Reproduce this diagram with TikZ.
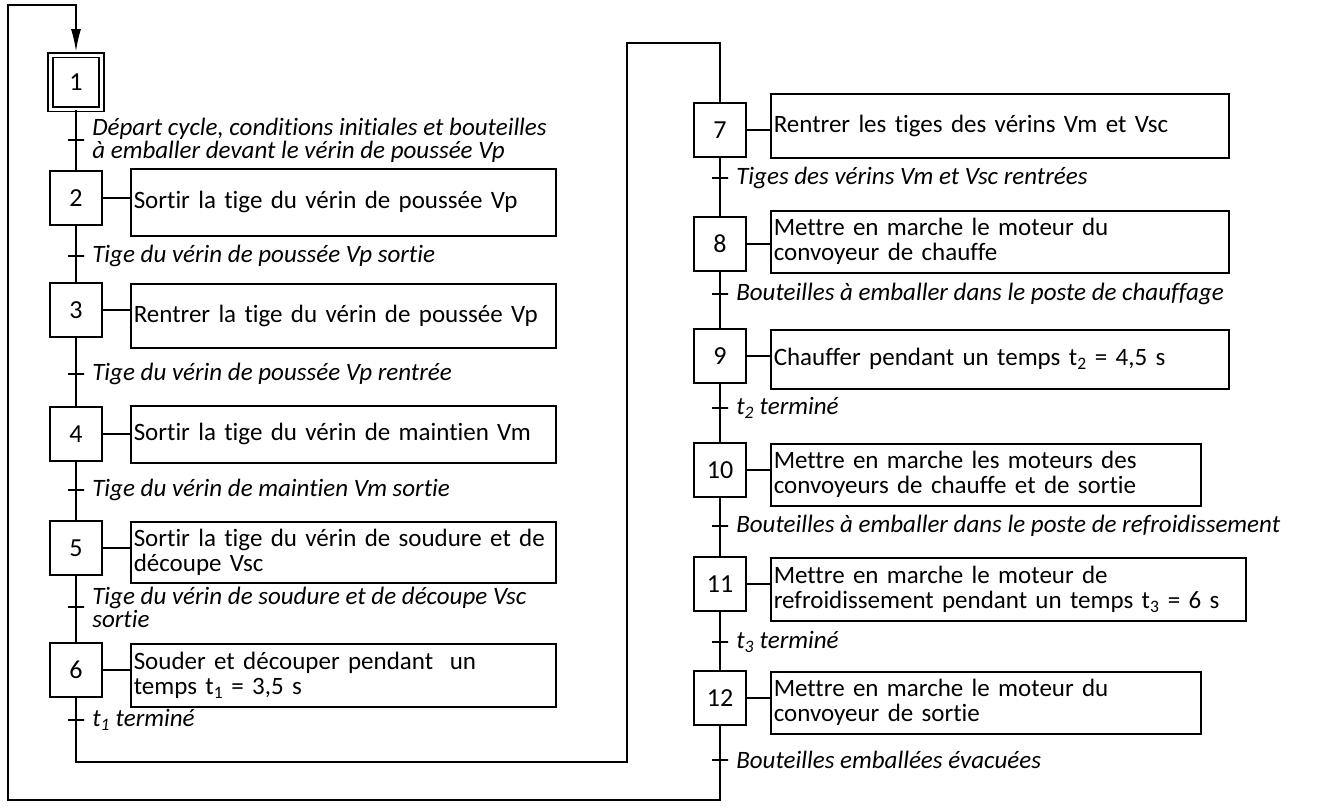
\documentclass[tikz,border=0pt]{standalone}
\usepackage{fontspec}
\setmainfont{Carlito}[Ligatures={NoCommon}]
\usetikzlibrary{arrows.meta}

\begin{document}
\begin{tikzpicture}[
                    x=1pt, y=-1pt,
                    line width=1.3pt,
                    font=\fontsize{25}{25}\selectfont,
                    etape/.style={draw, line width=1.5pt, minimum width=52pt, minimum height=54pt, inner sep=0pt, font=\fontsize{26}{26}\selectfont},
                    etapeinit/.style={etape, double, line width=1.8pt, double distance=3pt, minimum width=51pt, minimum height=54pt},
                    action/.style={draw, line width=1.5pt, anchor=north west, align=left, inner sep=0pt, inner xsep=3pt},
                    tick/.style={draw, line width=1.3pt, minimum width=16pt, minimum height=0pt, inner sep=0pt},
                    recep/.style={anchor=west, align=left, inner sep=0pt, font=\fontsize{25}{23}\selectfont\itshape}
                ]
                \useasboundingbox (0,0) rectangle (1334,811);

                % etapes
                \node (e1) [etapeinit] at (76,82) {1} ;
                \node (e2) [etape] at (76,198) {2} ;
                \node (e3) [etape] at (76,310) {3} ;
                \node (e4) [etape] at (76,434) {4} ;
                \node (e5) [etape] at (76,548) {5} ;
                \node (e6) [etape] at (76,670) {6} ;
                \node (e7) [etape] at (720,130) {7} ;
                \node (e8) [etape] at (720,244) {8} ;
                \node (e9) [etape] at (720,356) {9} ;
                \node (e10) [etape] at (720,470) {10} ;
                \node (e11) [etape] at (720,584) {11} ;
                \node (e12) [etape] at (720,698) {12} ;

                % actions
                \node (a2) [action, minimum width=425pt, minimum height=67pt, text width=419pt] at (130,168) {Sortir la tige du vérin de poussée Vp} ;
                \node (a3) [action, minimum width=425pt, minimum height=64pt, text width=419pt] at (130,283) {Rentrer la tige du vérin de poussée Vp} ;
                \node (a4) [action, minimum width=425pt, minimum height=57pt, text width=419pt] at (130,405) {Sortir la tige du vérin de maintien Vm} ;
                \node (a5) [action, minimum width=425pt, minimum height=61pt, text width=419pt] at (130,521) {Sortir la tige du vérin de soudure et de\\découpe Vsc} ;
                \node (a6) [action, minimum width=425pt, minimum height=63pt, text width=419pt] at (130,643) {Souder et découper pendant~ un\\temps t\textsubscript{1} = 3,5 s} ;
                \node (a7) [action, minimum width=458pt, minimum height=64pt, text width=452pt] at (770,93) {Rentrer les tiges des vérins Vm et Vsc} ;
                \node (a8) [action, minimum width=458pt, minimum height=62pt, text width=452pt] at (770,210) {Mettre en marche le moteur du\\convoyeur de chauffe} ;
                \node (a9) [action, minimum width=458pt, minimum height=59pt, text width=452pt] at (770,329) {Chauffer pendant un temps t\textsubscript{2} = 4,5 s} ;
                \node (a10) [action, minimum width=430pt, minimum height=62pt, text width=424pt] at (770,443) {Mettre en marche les moteurs des\\convoyeurs de chauffe et de sortie} ;
                \node (a11) [action, minimum width=475pt, minimum height=63pt, text width=469pt] at (770,557) {Mettre en marche le moteur de\\refroidissement pendant un temps t\textsubscript{3} = 6 s} ;
                \node (a12) [action, minimum width=430pt, minimum height=62pt, text width=424pt] at (770,671) {Mettre en marche le moteur du\\convoyeur de sortie} ;

                % receptivites
                \node (t1) [tick] at (76,140) {} ;
                \node (t2) [tick] at (76,256) {} ;
                \node (t3) [tick] at (76,374) {} ;
                \node (t4) [tick] at (76,490) {} ;
                \node (t5) [tick] at (76,607) {} ;
                \node (t6) [tick] at (76,720) {} ;
                \node (t7) [tick] at (720,178) {} ;
                \node (t8) [tick] at (720,294) {} ;
                \node (t9) [tick] at (720,408) {} ;
                \node (t10) [tick] at (720,526) {} ;
                \node (t11) [tick] at (720,642) {} ;
                \node (t12) [tick] at (720,760) {} ;

                \node (r1) [recep] at ([xshift=7pt]t1.east) {Départ cycle, conditions initiales et bouteilles\\à emballer devant le vérin de poussée Vp} ;
                \node (r2) [recep] at ([xshift=7pt]t2.east) {Tige du vérin de poussée Vp sortie} ;
                \node (r3) [recep] at ([xshift=7pt]t3.east) {Tige du vérin de poussée Vp rentrée} ;
                \node (r4) [recep] at ([xshift=7pt]t4.east) {Tige du vérin de maintien Vm sortie} ;
                \node (r5) [recep] at ([xshift=7pt]t5.east) {Tige du vérin de soudure et de découpe Vsc\\sortie} ;
                \node (r6) [recep] at ([xshift=7pt]t6.east) {t\textsubscript{1} terminé} ;
                \node (r7) [recep] at ([xshift=7pt]t7.east) {Tiges des vérins Vm et Vsc rentrées} ;
                \node (r8) [recep] at ([xshift=7pt]t8.east) {Bouteilles à emballer dans le poste de chauffage} ;
                \node (r9) [recep] at ([xshift=7pt]t9.east) {t\textsubscript{2} terminé} ;
                \node (r10) [recep] at ([xshift=7pt]t10.east) {Bouteilles à emballer dans le poste de refroidissement} ;
                \node (r11) [recep] at ([xshift=7pt]t11.east) {t\textsubscript{3} terminé} ;
                \node (r12) [recep] at ([xshift=7pt]t12.east) {Bouteilles emballées évacuées} ;

                % liaisons etape - action
                \foreach \n in {2,...,12}
                    \draw (e\n.east) -- (e\n.east -| a\n.west) ;

                % liaisons entre etapes
                \draw (e1) -- (e2) ;
                \draw (e2) -- (e3) ;
                \draw (e3) -- (e4) ;
                \draw (e4) -- (e5) ;
                \draw (e5) -- (e6) ;
                \draw (e7) -- (e8) ;
                \draw (e8) -- (e9) ;
                \draw (e9) -- (e10) ;
                \draw (e10) -- (e11) ;
                \draw (e11) -- (e12) ;

                \coordinate (c1) at (76,762) ;
                \coordinate (c2) at (627,762) ;
                \coordinate (c3) at (627,43) ;
                \coordinate (c4) at (720,43) ;
                \draw (e6.south) -- (c1) -- (c2) -- (c3) -- (c4) -- (e7.north) ;

                \coordinate (b1) at (720,800) ;
                \coordinate (b2) at (8,800) ;
                \coordinate (b3) at (8,5) ;
                \coordinate (b4) at (76,5) ;
                \draw [-{Latex[length=22pt,width=10pt]}, shorten >=3pt] (e12.south) -- (b1) -- (b2) -- (b3) -- (b4) -- (e1.north) ;
            \end{tikzpicture}
\end{document}
